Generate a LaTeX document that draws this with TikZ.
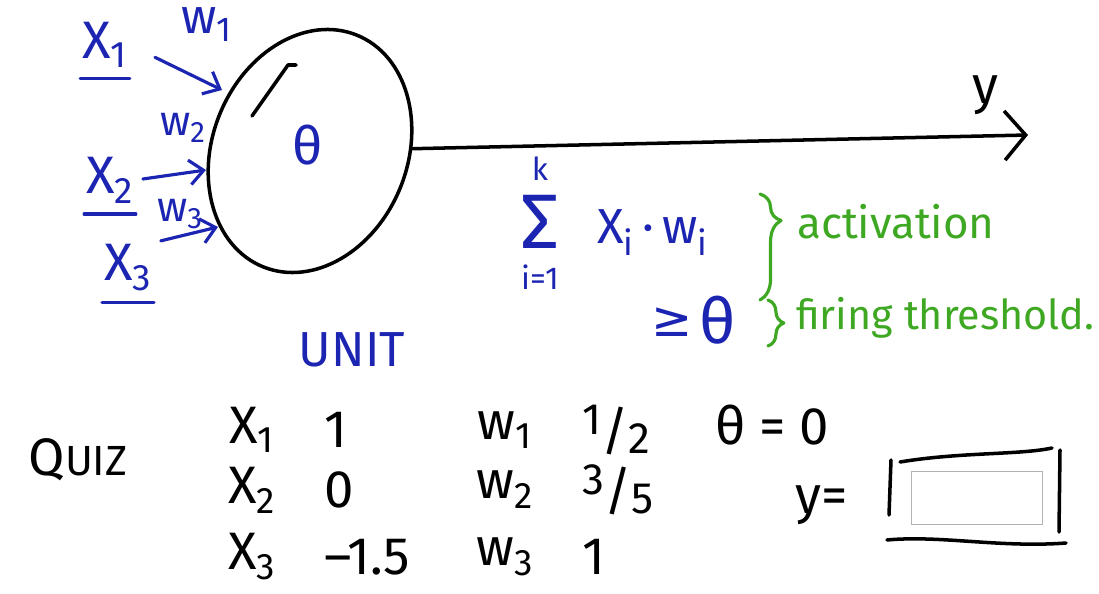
\documentclass[tikz,border=0pt]{standalone}
\usepackage{fontspec}
\setmainfont{Fira Sans}
\newfontfamily\symfont{DejaVu Sans}
\usetikzlibrary{shapes.geometric, arrows.meta, positioning, decorations.pathreplacing}
\definecolor{penblue}{RGB}{28,36,178}
\definecolor{pengreen}{RGB}{62,168,34}
\newcommand{\handsize}[1]{\fontsize{#1}{#1}\selectfont}
\newcommand{\hfrac}[2]{\raisebox{.55ex}{\handsize{25}#1}/\raisebox{-.15ex}{\handsize{25}#2}}

\begin{document}
\begin{tikzpicture}[x=0.02cm, y=-0.02cm,
    ink/.style={line width=2pt, line cap=round, line join=round},
    blueink/.style={ink, draw=penblue, line width=1.8pt},
    greenink/.style={ink, draw=pengreen, line width=1.8pt},
    hand/.style={inner sep=1pt, font=\handsize{30}},
    bluetext/.style={hand, text=penblue},
    greentext/.style={inner sep=1pt, text=pengreen, font=\handsize{25}},
    inarrow/.style={blueink, -{Straight Barb[length=8pt, width=14pt]}},
    unitshape/.style={draw, ellipse, ink, minimum width=3.9cm, minimum height=5cm, rotate=-22}]

  \useasboundingbox (0,0) rectangle (1099,594);

  % the unit
  \node[unitshape] (unit) at (310,151) {};
  \node[bluetext] (theta) at (308,145) {θ};
  \draw[ink] (252,116) -- (288,65) -- (296,65);

  % inputs and weights
  \node[bluetext] (x1) at (105,45) {X\textsubscript{1}};
  \node[bluetext] (x2) at (110,180) {X\textsubscript{2}};
  \node[bluetext] (x3) at (128,268) {X\textsubscript{3}};
  \foreach \n in {x1,x2,x3}
    \draw[blueink] ([yshift=-5pt]\n.south west) -- ([yshift=-5pt]\n.south east);
  \node[bluetext, font=\handsize{28}] (w1) at (207,25) {w\textsubscript{1}};
  \node[bluetext, font=\handsize{24}] (w2) at (183,128) {w\textsubscript{2}};
  \node[bluetext, font=\handsize{24}] (w3) at (180,214) {w\textsubscript{3}};
  \coordinate (h1) at (222,90);
  \coordinate (h2) at (206,170);
  \coordinate (h3) at (218,227);
  \draw[inarrow, shorten <=16pt] (x1.east) -- (h1);
  \draw[inarrow, shorten <=4pt] (x2.east) -- (h2);
  \draw[inarrow, shorten <=4pt] (x3.north east) -- (h3);

  % output
  \coordinate (yend) at (1028,135);
  \draw[ink, -{Straight Barb[length=12pt, width=28pt]}] (unit) -- (yend);
  \node[hand] (ylabel) at (985,95) {y};

  % activation and threshold
  \node[bluetext, inner sep=0pt, font=\handsize{44}] (sigma) at (540,222) {Σ};
  \node[bluetext, font=\handsize{18}, above=7pt of sigma] (k) {k};
  \node[bluetext, font=\handsize{18}, below=8pt of sigma] (ione) {i=1};
  \node[bluetext, font=\handsize{28}, right=20pt of sigma, yshift=-6pt] (xw) {X\textsubscript{i}\,·\,w\textsubscript{i}};
  \draw[greenink, decorate, decoration={brace, amplitude=12pt, aspect=0.25}] (760,194) -- (760,300);
  \node[greentext, anchor=west] (act) at (795,222) {activation};
  \node[bluetext, font=\symfont\handsize{28}] (geq) at (672,322) {≥};
  \node[bluetext, font=\handsize{36}] (thr) at (718,320) {θ};
  \draw[greenink, decorate, decoration={brace, amplitude=9pt}] (768,300) -- (768,346);
  \node[greentext, font=\handsize{23.5}, anchor=west] (fire) at (794,318) {firing threshold.};

  \node[bluetext, font=\handsize{28}] (unitlabel) at (352,350) {UNIT};

  % quiz
  \node[hand] (quiz) at (78,460) {Q{\handsize{24}UIZ}};
  \foreach \i/\xv/\wv/\yy in {1/1/{\hfrac{1}{2}}/430, 2/0/{\hfrac{3}{5}}/490, 3/{--1.5}/1/557} {
    \node[hand] (xrow\i) at (252,\yy) {X\textsubscript{\i}};
    \node[hand, anchor=west] (xval\i) at (322,\yy) {\xv};
    \node[hand] (wrow\i) at (505,\yy) {w\textsubscript{\i}};
    \node[hand, anchor=west] (wval\i) at (580,\yy) {\wv};
  }
  \node[hand] (thetazero) at (772,425) {θ = 0};
  \node[hand] (yeq) at (822,505) {y=};
  \node[draw=gray!60, line width=1pt, minimum width=2.62cm, minimum height=1.06cm] (answer) at (977,498) {};
  \draw[ink] (891,460) -- (889,515);
  \draw[ink] (900,462) .. controls (960,452) and (1020,455) .. (1052,448);
  \draw[ink] (1060,450) -- (1059,532);
  \draw[ink] (887,540) .. controls (940,535) and (1000,548) .. (1066,543);
\end{tikzpicture}
\end{document}
